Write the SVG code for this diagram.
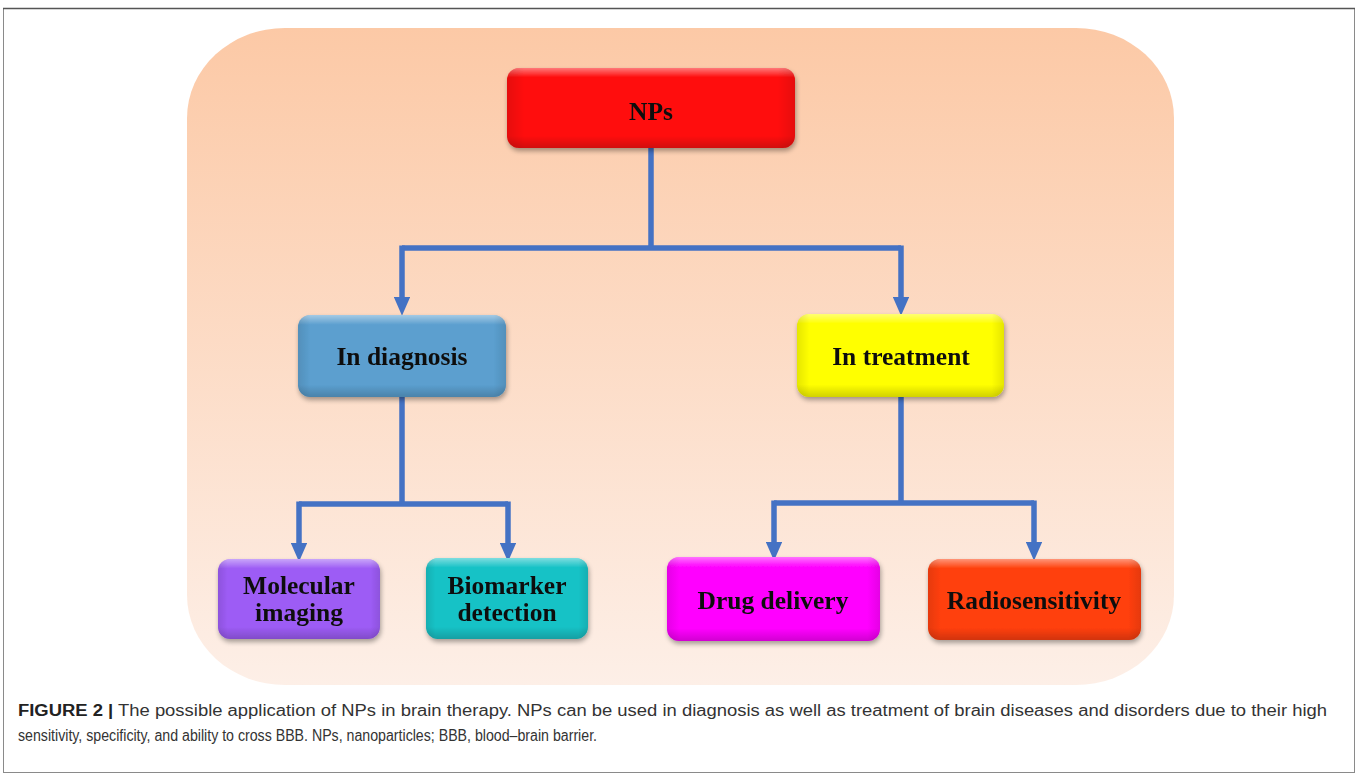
<svg xmlns="http://www.w3.org/2000/svg" width="1358" height="777" viewBox="0 0 1358 777">
<defs>
<linearGradient id="bg" x1="0" y1="0" x2="0" y2="1">
<stop offset="0" stop-color="#FCC9A6"/>
<stop offset="1" stop-color="#FDEFE7"/>
</linearGradient>
<linearGradient id="bevel" x1="0" y1="0" x2="0" y2="1">
<stop offset="0" stop-color="#fff" stop-opacity="0.45"/>
<stop offset="0.12" stop-color="#fff" stop-opacity="0"/>
<stop offset="0.85" stop-color="#000" stop-opacity="0"/>
<stop offset="1" stop-color="#000" stop-opacity="0.18"/>
</linearGradient>
<linearGradient id="bevelh" x1="0" y1="0" x2="1" y2="0">
<stop offset="0" stop-color="#000" stop-opacity="0.10"/>
<stop offset="0.06" stop-color="#000" stop-opacity="0"/>
<stop offset="0.94" stop-color="#000" stop-opacity="0"/>
<stop offset="1" stop-color="#000" stop-opacity="0.10"/>
</linearGradient>
<filter id="sh" x="-10%" y="-10%" width="120%" height="130%">
<feGaussianBlur in="SourceAlpha" stdDeviation="2.5"/>
<feOffset dx="1" dy="3" result="o"/>
<feComponentTransfer><feFuncA type="linear" slope="0.35"/></feComponentTransfer>
<feMerge><feMergeNode/><feMergeNode in="SourceGraphic"/></feMerge>
</filter>
<marker id="ah" markerWidth="4" markerHeight="3" refX="0" refY="1.5" orient="auto" markerUnits="strokeWidth">
<path d="M0,0 L3.4,1.5 L0,3 Z" fill="#4472C4"/>
</marker>
</defs>
<style>
.lbl{font-family:"Liberation Serif","Times New Roman",serif;font-weight:bold;font-size:25.5px;fill:#111;text-anchor:middle}
.con{fill:none;stroke:#4472C4;stroke-width:5.5;stroke-linejoin:miter}
.arr{fill:none;stroke:#4472C4;stroke-width:5.5;marker-end:url(#ah)}
.ov1{fill:url(#bevel)}
.ov2{fill:url(#bevelh)}
.cap{font-family:"Liberation Sans",Arial,sans-serif;font-size:16px;fill:#333}
</style>
<rect x="0" y="0" width="1358" height="777" fill="#fff"/>
<rect x="3.5" y="8.5" width="1351" height="764" fill="none" stroke="#8a8a8a" stroke-width="1"/>
<line x1="3" y1="8.5" x2="1355" y2="8.5" stroke="#555" stroke-width="1.5"/>
<rect id="background" x="187" y="28" width="987" height="657" rx="98" ry="90" fill="url(#bg)"/>

<g id="connectors">
<path class="con" d="M651,148 V248 M402,248 H901"/>
<path class="arr" d="M402,245.5 V297"/>
<path class="arr" d="M901,245.5 V297"/>
<path class="con" d="M402,397 V504 M299,504 H508"/>
<path class="arr" d="M299,501.5 V543"/>
<path class="arr" d="M508,501.5 V543"/>
<path class="con" d="M901,397 V503 M774,503 H1034"/>
<path class="arr" d="M774,500.5 V542"/>
<path class="arr" d="M1034,500.5 V542"/>
</g>

<g id="node-nps" filter="url(#sh)">
<rect x="507" y="68" width="288" height="80" rx="12" fill="#FF0B0B"/>
<rect class="ov1" x="507" y="68" width="288" height="80" rx="12"/>
<rect class="ov2" x="507" y="68" width="288" height="80" rx="12"/>
<text class="lbl" x="651" y="120">NPs</text>
</g>

<g id="node-diagnosis" filter="url(#sh)">
<rect x="298" y="315" width="208" height="82" rx="12" fill="#5B9FCF"/>
<rect class="ov1" x="298" y="315" width="208" height="82" rx="12"/>
<rect class="ov2" x="298" y="315" width="208" height="82" rx="12"/>
<text class="lbl" x="402" y="365">In diagnosis</text>
</g>

<g id="node-treatment" filter="url(#sh)">
<rect x="797" y="314" width="207" height="83" rx="12" fill="#FFFF00"/>
<rect class="ov1" x="797" y="314" width="207" height="83" rx="12"/>
<rect class="ov2" x="797" y="314" width="207" height="83" rx="12"/>
<text class="lbl" x="901" y="365">In treatment</text>
</g>

<g id="node-molecular" filter="url(#sh)">
<rect x="218" y="559" width="162" height="80" rx="12" fill="#9D5CF5"/>
<rect class="ov1" x="218" y="559" width="162" height="80" rx="12"/>
<rect class="ov2" x="218" y="559" width="162" height="80" rx="12"/>
<text class="lbl" x="299" y="594">Molecular</text>
<text class="lbl" x="299" y="621">imaging</text>
</g>

<g id="node-biomarker" filter="url(#sh)">
<rect x="426" y="558" width="162" height="81" rx="12" fill="#16C2C6"/>
<rect class="ov1" x="426" y="558" width="162" height="81" rx="12"/>
<rect class="ov2" x="426" y="558" width="162" height="81" rx="12"/>
<text class="lbl" x="507" y="594">Biomarker</text>
<text class="lbl" x="507" y="621">detection</text>
</g>

<g id="node-drug" filter="url(#sh)">
<rect x="667" y="557" width="213" height="84" rx="12" fill="#FF00FF"/>
<rect class="ov1" x="667" y="557" width="213" height="84" rx="12"/>
<rect class="ov2" x="667" y="557" width="213" height="84" rx="12"/>
<text class="lbl" x="773" y="609">Drug delivery</text>
</g>

<g id="node-radio" filter="url(#sh)">
<rect x="928" y="559" width="213" height="81" rx="12" fill="#FF3F0A"/>
<rect class="ov1" x="928" y="559" width="213" height="81" rx="12"/>
<rect class="ov2" x="928" y="559" width="213" height="81" rx="12"/>
<text class="lbl" x="1034" y="609">Radiosensitivity</text>
</g>

<g id="caption">
<text class="cap" x="18" y="716" textLength="1309" lengthAdjust="spacingAndGlyphs"><tspan font-weight="bold" fill="#222">FIGURE 2 |</tspan> The possible application of NPs in brain therapy. NPs can be used in diagnosis as well as treatment of brain diseases and disorders due to their high</text>
<text class="cap" x="18" y="741" textLength="579" lengthAdjust="spacingAndGlyphs">sensitivity, specificity, and ability to cross BBB. NPs, nanoparticles; BBB, blood–brain barrier.</text>
</g>
</svg>
